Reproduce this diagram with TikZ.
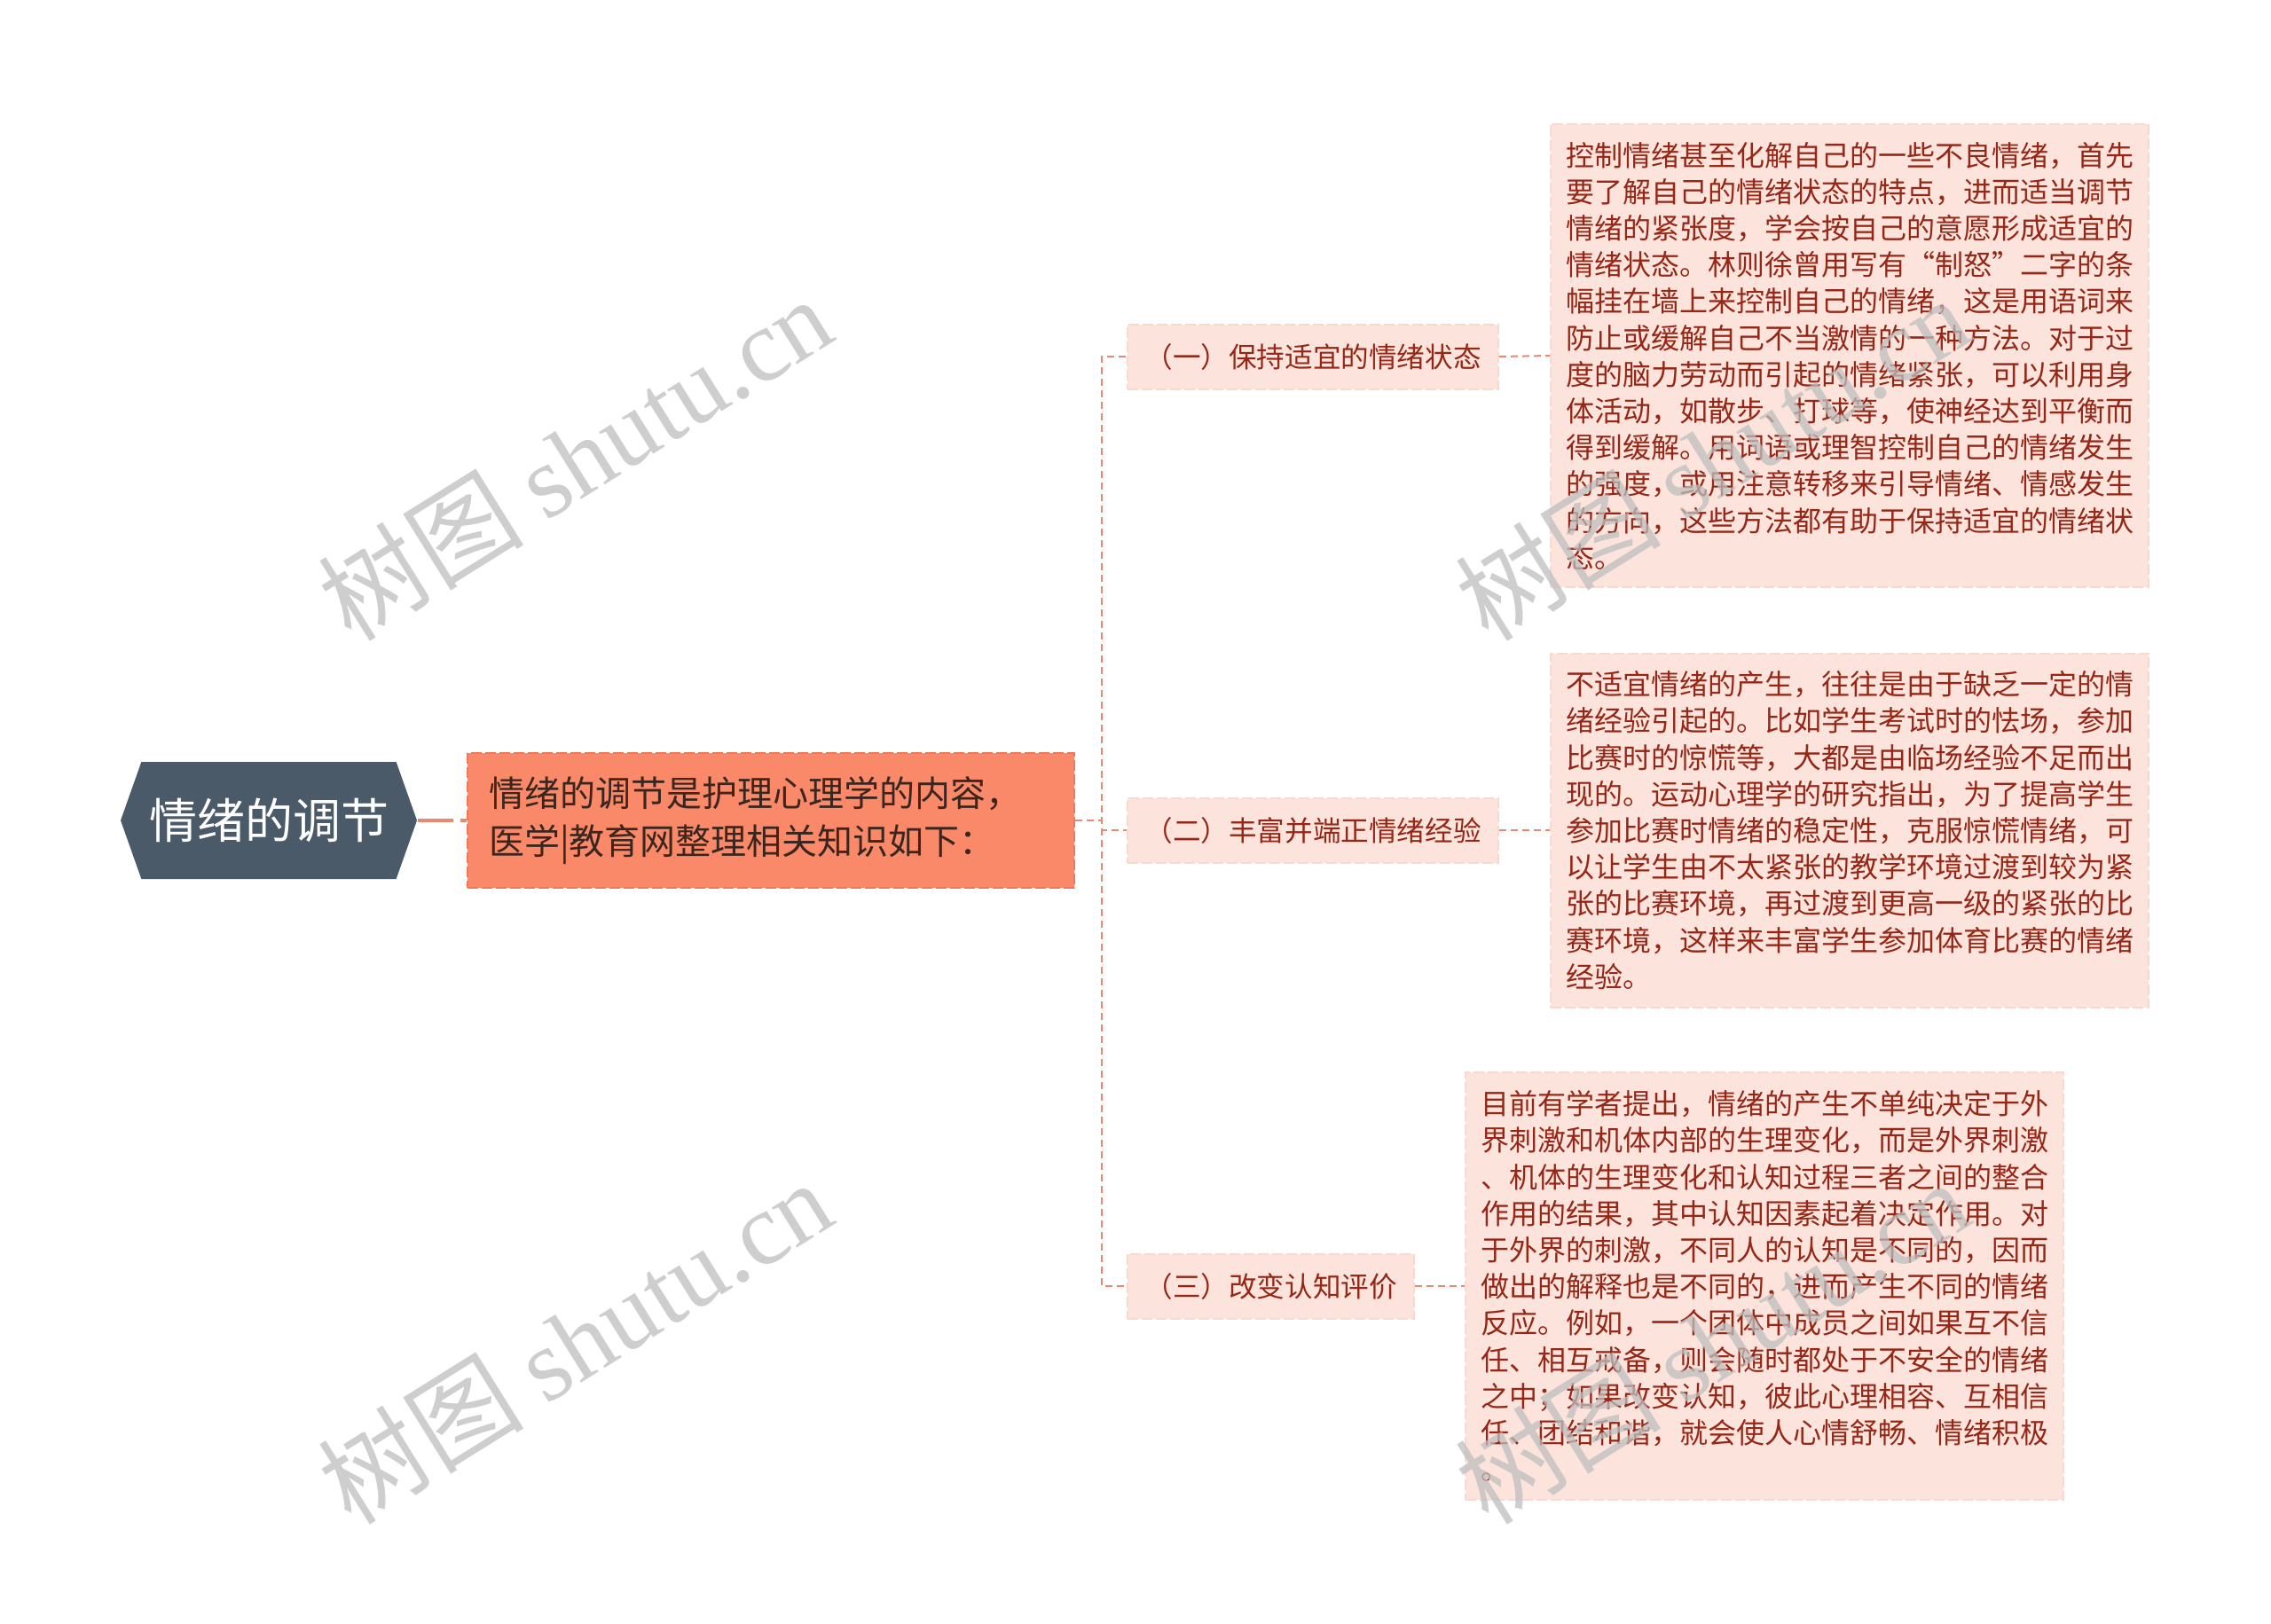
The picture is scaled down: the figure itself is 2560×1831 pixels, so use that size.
\documentclass[tikz,border=0pt]{standalone}
\usepackage{fontspec}
\setmainfont{Noto Sans CJK SC}
\newfontfamily\wmfont{Liberation Serif}
\usetikzlibrary{shapes.symbols}
\definecolor{rootfill}{RGB}{75,90,105}
\definecolor{mainfill}{RGB}{250,137,106}
\definecolor{mainedge}{RGB}{238,120,90}
\definecolor{subfill}{RGB}{252,228,220}
\definecolor{subedge}{RGB}{249,216,206}
\definecolor{leaftext}{RGB}{150,38,22}
\definecolor{maintext}{RGB}{58,38,30}
\definecolor{linkcol}{RGB}{232,137,112}
\definecolor{wmgray}{RGB}{190,190,190}
\tikzset{
  rootnode/.style={shape=signal, signal to=west and east, signal pointer angle=141,
    fill=rootfill, text=white, font=\fontsize{13.5}{16}\selectfont,
    minimum width=83.5pt, minimum height=33pt, inner xsep=0pt},
  mainnode/.style={anchor=west, fill=mainfill, draw=mainedge, line width=0.5pt,
    dash pattern=on 3pt off 1pt, text=maintext, font=\fontsize{10}{13.5}\selectfont,
    text width=159pt, align=left, inner xsep=6pt, minimum height=38pt},
  subnode/.style={anchor=west, fill=subfill, draw=subedge, line width=0.5pt,
    dash pattern=on 3pt off 1pt, text=leaftext, font=\fontsize{7.9}{9}\selectfont,
    inner xsep=4.85pt, minimum height=18.25pt},
  leafnode/.style={anchor=west, fill=subfill, draw=subedge, line width=0.5pt,
    dash pattern=on 3pt off 1pt, text=leaftext, font=\fontsize{8}{10.3}\selectfont,
    text width=160pt, align=left, inner xsep=4.25pt, inner ysep=5pt},
  link/.style={draw=linkcol, line width=0.5pt, dash pattern=on 2pt off 1.25pt},
  rootlink/.style={draw=linkcol, line width=1pt, dash pattern=on 10pt off 2pt},
  wmark/.style={text=wmgray, opacity=0.75, font=\fontsize{29}{29}\selectfont, rotate=32}
}
\begin{document}
\begin{tikzpicture}[x=0.25pt, y=-0.25pt]
\useasboundingbox (0,0) rectangle (2560,1831);
\node[rootnode] (root) at (303,925) {情绪的调节};
\node[mainnode] (main) at (526,925) {情绪的调节是护理心理学的内容，\\医学|教育网整理相关知识如下：};
% branches
\node[subnode] (s1) at (1270,402) {（一）保持适宜的情绪状态};
\node[subnode] (s2) at (1270,936) {（二）丰富并端正情绪经验};
\node[subnode] (s3) at (1270,1450) {（三）改变认知评价};
% texts
\node[leafnode] (t1) at (1747,401) {控制情绪甚至化解自己的一些不良情绪，首先\\要了解自己的情绪状态的特点，进而适当调节\\情绪的紧张度，学会按自己的意愿形成适宜的\\情绪状态。林则徐曾用写有“制怒”二字的条\\幅挂在墙上来控制自己的情绪，这是用语词来\\防止或缓解自己不当激情的一种方法。对于过\\度的脑力劳动而引起的情绪紧张，可以利用身\\体活动，如散步、打球等，使神经达到平衡而\\得到缓解。用词语或理智控制自己的情绪发生\\的强度，或用注意转移来引导情绪、情感发生\\的方向，这些方法都有助于保持适宜的情绪状\\态。};
\node[leafnode] (t2) at (1747,936) {不适宜情绪的产生，往往是由于缺乏一定的情\\绪经验引起的。比如学生考试时的怯场，参加\\比赛时的惊慌等，大都是由临场经验不足而出\\现的。运动心理学的研究指出，为了提高学生\\参加比赛时情绪的稳定性，克服惊慌情绪，可\\以让学生由不太紧张的教学环境过渡到较为紧\\张的比赛环境，再过渡到更高一级的紧张的比\\赛环境，这样来丰富学生参加体育比赛的情绪\\经验。};
\node[leafnode] (t3) at (1651,1450) {目前有学者提出，情绪的产生不单纯决定于外\\界刺激和机体内部的生理变化，而是外界刺激\\、机体的生理变化和认知过程三者之间的整合\\作用的结果，其中认知因素起着决定作用。对\\于外界的刺激，不同人的认知是不同的，因而\\做出的解释也是不同的，进而产生不同的情绪\\反应。例如，一个团体中成员之间如果互不信\\任、相互戒备，则会随时都处于不安全的情绪\\之中；如果改变认知，彼此心理相容、互相信\\任、团结和谐，就会使人心情舒畅、情绪积极\\。};
\draw[rootlink] (root.east) -- (main.west);
\foreach \s in {s1,s2,s3}
  \draw[link] (main.east) -- ++(7.5pt,0) |- (\s.west);
\draw[link] (s1.east) -- (t1.west);
\draw[link] (s2.east) -- (t2.west);
\draw[link] (s3.east) -- (t3.west);
% watermark
\node[wmark] (wm1) at (648,516) {树图 {\wmfont shutu.cn}};
\node[wmark] (wm2) at (648,1512) {树图 {\wmfont shutu.cn}};
\node[wmark] (wm3) at (1930,516) {树图 {\wmfont shutu.cn}};
\node[wmark] (wm4) at (1930,1512) {树图 {\wmfont shutu.cn}};
\end{tikzpicture}
\end{document}
